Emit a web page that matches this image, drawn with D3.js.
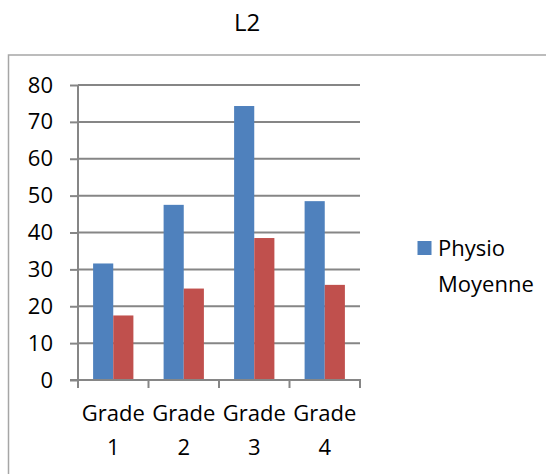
<!DOCTYPE html>
<html>
<head>
<meta charset="utf-8">
<script src="https://cdn.jsdelivr.net/npm/d3@7"></script>
<style>
  html, body { margin: 0; padding: 0; background: #fff; }
  svg { display: block; font-family: "Open Sans", "Noto Sans", sans-serif; }
</style>
</head>
<body>
<svg id="chart" width="546" height="474"></svg>
<script>
// Chart data
const title = "L2";
const categories = [["Grade", "1"], ["Grade", "2"], ["Grade", "3"], ["Grade", "4"]];
const seriesNames = ["Physio Moyenne", "Autre"];
const physio = [31.6, 47.5, 74.3, 48.5];
const moyenne = [17.5, 24.8, 38.5, 25.8];
const yTicks = [0, 10, 20, 30, 40, 50, 60, 70, 80];
const colors = ["#4F81BD", "#C0504D"];

const FONT = 22;
const svg = d3.select("#chart");

// Outer chart frame
svg.append("rect")
  .attr("x", 8.5).attr("y", 55)
  .attr("width", 600).attr("height", 500)
  .attr("fill", "none").attr("stroke", "#a6a6a6").attr("stroke-width", 1.5);

// Title
svg.append("text")
  .attr("x", 247).attr("y", 31)
  .attr("text-anchor", "middle")
  .attr("font-size", 24)
  .attr("fill", "#000")
  .text(title);

const plot = { left: 78, right: 360, top: 85, bottom: 380 };

const x = d3.scaleBand()
  .domain(d3.range(categories.length))
  .range([plot.left, plot.right])
  .paddingInner(0).paddingOuter(0);

const y = d3.scaleLinear().domain([0, 80]).range([plot.bottom, plot.top]);

// Gridlines
svg.append("g")
  .selectAll("line")
  .data(yTicks.filter(d => d > 0))
  .join("line")
  .attr("x1", plot.left).attr("x2", plot.right)
  .attr("y1", d => y(d)).attr("y2", d => y(d))
  .attr("stroke", "#868686").attr("stroke-width", 2);

// Bars: each group uses Excel-style 150% gap width
const groupWidth = x.bandwidth() * 2 / 3.5;
const barWidth = groupWidth / 2;
const series = [physio, moyenne];
series.forEach((vals, si) => {
  svg.append("g")
    .selectAll("rect")
    .data(vals)
    .join("rect")
    .attr("x", (d, i) => x(i) + (x.bandwidth() - groupWidth) / 2 + si * barWidth)
    .attr("y", d => y(d))
    .attr("width", barWidth)
    .attr("height", d => plot.bottom - y(d))
    .attr("fill", colors[si]);
});

// Y axis
const yAxis = svg.append("g")
  .attr("transform", `translate(${plot.left},0)`)
  .call(d3.axisLeft(y).tickValues(yTicks).tickSize(8).tickPadding(17).tickFormat(d3.format("d")));
yAxis.select(".domain").attr("stroke", "#868686").attr("stroke-width", 2).attr("d", `M0,${plot.top}V${plot.bottom}`);
yAxis.selectAll(".tick line").attr("stroke", "#868686").attr("stroke-width", 2);
yAxis.selectAll(".tick text").attr("font-size", FONT).attr("fill", "#000")
  .attr("font-family", "'Open Sans', sans-serif");

// X axis with category boundary ticks
const xAxisG = svg.append("g");
xAxisG.append("line")
  .attr("x1", plot.left - 8).attr("x2", plot.right + 1)
  .attr("y1", plot.bottom).attr("y2", plot.bottom)
  .attr("stroke", "#868686").attr("stroke-width", 2);
const bounds = d3.range(categories.length + 1).map(i => i < categories.length ? x(i) : plot.right);
xAxisG.selectAll("line.tick")
  .data(bounds)
  .join("line")
  .attr("class", "tick")
  .attr("x1", d => d).attr("x2", d => d)
  .attr("y1", plot.bottom).attr("y2", plot.bottom + 8)
  .attr("stroke", "#868686").attr("stroke-width", 2);

const catLabels = xAxisG.selectAll("text.cat")
  .data(categories)
  .join("text")
  .attr("class", "cat")
  .attr("text-anchor", "middle")
  .attr("font-size", FONT)
  .attr("fill", "#000");
catLabels.each(function (lines, i) {
  const t = d3.select(this);
  lines.forEach((ln, k) => {
    t.append("tspan")
      .attr("x", x(i) + x.bandwidth() / 2)
      .attr("y", 421 + k * 34)
      .text(ln);
  });
});

// Legend
const legend = svg.append("g");
legend.append("rect")
  .attr("x", 417.5).attr("y", 241)
  .attr("width", 14).attr("height", 14)
  .attr("fill", colors[0]);
const legendText = legend.append("text")
  .attr("font-size", FONT).attr("fill", "#000");
seriesNames[0].split(" ").forEach((w, k) => {
  legendText.append("tspan").attr("x", 438).attr("y", 256 + k * 36).text(w);
});
</script>
</body>
</html>
